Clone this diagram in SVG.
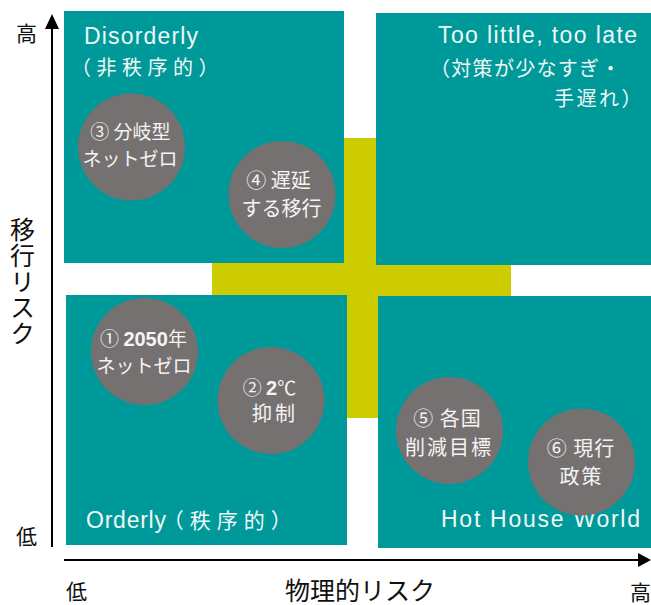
<svg xmlns="http://www.w3.org/2000/svg" width="651" height="605" viewBox="0 0 651 605">
<defs>
<style>
.quad{fill:#009999}
.bub{fill:#767171}
.lat{font-family:"Liberation Sans","Noto Sans CJK JP",sans-serif;fill:#eef8f7;font-size:23px}
.jp{font-family:"Noto Sans CJK JP","Liberation Sans",sans-serif;fill:#eef8f7;font-size:20px}
.ct{font-family:"Noto Sans CJK JP","Liberation Sans",sans-serif;fill:#f4f4f4;font-size:19px;text-anchor:middle}
.c20{font-size:20px}
.b{font-family:"Liberation Sans",sans-serif;font-weight:bold;font-size:20px}
.ax{font-family:"Noto Sans CJK JP",sans-serif;fill:#111;font-size:21px}
.big{font-size:25px}
.axl{stroke:#000;stroke-width:2}
</style>
</defs>
<rect id="cross" x="212" y="138" width="299" height="280" fill="#cccc00"/>
<g id="q-disorderly">
<rect class="quad" x="64" y="11" width="280" height="252"/>
<text class="lat" x="84" y="44" textLength="114" lengthAdjust="spacing">Disorderly</text>
<text class="jp" x="71" y="75" letter-spacing="5.5">（非秩序的）</text>
</g>
<g id="q-toolate">
<rect class="quad" x="376" y="13" width="275" height="252"/>
<text class="lat" x="438" y="43" textLength="199" lengthAdjust="spacing">Too little, too late</text>
<text class="jp" x="430" y="76" letter-spacing="1.3">（対策が少なすぎ・</text>
<text class="jp" x="554" y="106" letter-spacing="2.5">手遅れ）</text>
</g>
<g id="q-orderly">
<rect class="quad" x="66" y="295" width="281" height="250"/>
<text class="lat" x="86" y="528"><tspan textLength="80" lengthAdjust="spacing">Orderly</tspan><tspan font-family="Noto Sans CJK JP, sans-serif" font-size="21" letter-spacing="6" dx="-4">（秩序的）</tspan></text>
</g>
<g id="q-hothouse">
<rect class="quad" x="378" y="296" width="273" height="252"/>
<text class="lat" x="441" y="527" textLength="199" lengthAdjust="spacing">Hot House World</text>
</g>
<g id="n3">
<circle class="bub" cx="131.5" cy="147" r="53.5"/>
<text class="ct" x="130.5" y="139">③ 分岐型</text>
<text class="ct" x="130" y="166">ネットゼロ</text>
</g>
<g id="n4">
<circle class="bub" cx="282" cy="194.5" r="53.5"/>
<text class="ct c20" x="278.5" y="188">④ 遅延</text>
<text class="ct c20" x="281.5" y="216">する移行</text>
</g>
<g id="n1">
<circle class="bub" cx="144.5" cy="351.5" r="53.5"/>
<text class="ct" x="143.5" y="346">① <tspan class="b" fill="#f4f4f4">2050</tspan>年</text>
<text class="ct" x="144" y="373">ネットゼロ</text>
</g>
<g id="n2">
<circle class="bub" cx="271" cy="400.5" r="53.5"/>
<text class="ct" x="269.5" y="395">② <tspan class="b" fill="#f4f4f4">2</tspan>℃</text>
<text class="ct c20" x="275" y="421" letter-spacing="3">抑制</text>
</g>
<g id="n5">
<circle class="bub" cx="449.5" cy="430.5" r="53.5"/>
<text class="ct c20" x="447.5" y="426" letter-spacing="1">⑤ 各国</text>
<text class="ct c20" x="449" y="455" letter-spacing="2">削減目標</text>
</g>
<g id="n6">
<circle class="bub" cx="581.5" cy="462" r="53.5"/>
<text class="ct c20" x="581" y="456" letter-spacing="1">⑥ 現行</text>
<text class="ct c20" x="581.5" y="484" letter-spacing="2">政策</text>
</g>
<g id="connectors">
<line class="axl" x1="52" y1="547" x2="52" y2="27"/>
<path d="M52,14 L59,29 L45,29 Z" fill="#000"/>
<line class="axl" x1="64" y1="560" x2="638" y2="560"/>
<path d="M651,560 L638,553 L638,567 Z" fill="#000"/>
</g>
<g id="axis-labels">
<text class="ax" x="16" y="41">高</text>
<text class="ax" x="16" y="544">低</text>
<text class="ax" x="66" y="599">低</text>
<text class="ax" x="630" y="600">高</text>
<text class="ax big" x="22.5" y="217" writing-mode="vertical-rl" letter-spacing="1">移行リスク</text>
<text class="ax big" x="360" y="600" text-anchor="middle">物理的リスク</text>
</g>
</svg>
